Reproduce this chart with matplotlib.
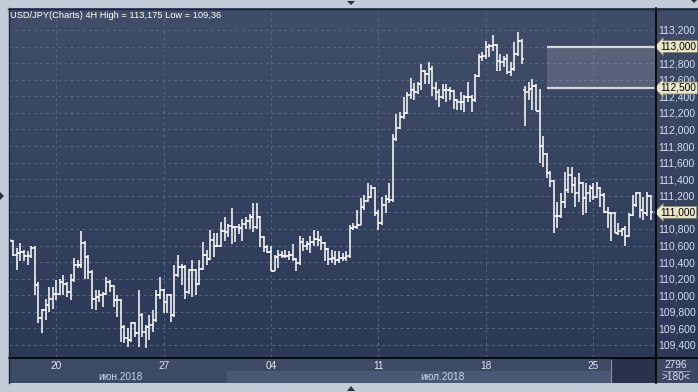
import numpy as np
import matplotlib
matplotlib.use('Agg')
import matplotlib.pyplot as plt
import matplotlib.transforms as mtransforms
from matplotlib.patches import Rectangle, Polygon
from matplotlib.colors import LinearSegmentedColormap

# USD/JPY 4H bars, 18 Jun - 27 Jul 2018
opens = [110.67, 110.66, 110.49, 110.51, 110.52, 110.47, 110.47, 110.57, 110.12, 109.72,
         109.82, 109.88, 109.95, 110.02, 110.02, 110.16, 110.14, 110.04, 110.18, 110.37,
         110.37, 110.63, 110.46, 110.28, 109.96, 109.98, 110.00, 110.02, 110.16, 110.11,
         109.94, 109.94, 109.62, 109.48, 109.46, 109.66, 109.54, 109.76, 109.56, 109.62,
         109.64, 109.70, 110.00, 110.06, 109.92, 110.00, 109.76, 110.25, 110.34, 110.34,
         110.04, 110.30, 110.30, 110.14, 110.32, 110.48, 110.44, 110.67, 110.60, 110.60,
         110.78, 110.76, 110.84, 110.82, 110.82, 110.81, 110.86, 110.89, 110.94, 110.82,
         110.94, 110.70, 110.58, 110.52, 110.29, 110.46, 110.48, 110.47, 110.47, 110.48,
         110.44, 110.39, 110.64, 110.60, 110.62, 110.64, 110.68, 110.67, 110.63, 110.56,
         110.44, 110.45, 110.43, 110.45, 110.45, 110.47, 110.81, 110.82, 110.85, 111.07,
         111.14, 111.18, 111.29, 110.99, 110.87, 111.09, 111.16, 111.15, 111.88, 112.02,
         112.15, 112.20, 112.42, 112.47, 112.45, 112.55, 112.71, 112.67, 112.73, 112.50,
         112.45, 112.39, 112.47, 112.47, 112.46, 112.35, 112.33, 112.33, 112.39, 112.39,
         112.35, 112.65, 112.87, 112.89, 112.99, 113.01, 113.02, 112.83, 112.81, 112.85,
         112.69, 112.73, 112.91, 113.07, 112.47, 112.45, 112.49, 112.53, 112.22, 111.80,
         111.70, 111.48, 111.38, 110.95, 110.95, 111.12, 111.27, 111.45, 111.33, 111.23,
         111.35, 111.17, 111.23, 111.29, 111.19, 111.29, 111.21, 111.01, 110.99, 110.99,
         110.75, 110.77, 110.80, 110.72, 110.97, 111.09, 111.23, 111.03, 110.99, 111.20]
highs = [110.68, 110.67, 110.57, 110.63, 110.55, 110.53, 110.59, 110.59, 110.16, 109.84,
         109.96, 110.10, 110.10, 110.18, 110.20, 110.24, 110.16, 110.26, 110.45, 110.43,
         110.77, 110.65, 110.48, 110.30, 110.06, 110.06, 110.04, 110.22, 110.18, 110.12,
         110.00, 109.96, 109.64, 109.60, 109.68, 109.68, 110.06, 109.78, 109.64, 109.76,
         109.82, 110.06, 110.22, 110.08, 110.02, 110.02, 110.36, 110.48, 110.38, 110.36,
         110.32, 110.43, 110.32, 110.42, 110.64, 110.54, 110.79, 110.75, 110.75, 110.88,
         110.94, 110.86, 111.05, 110.84, 110.86, 110.92, 110.94, 110.98, 111.11, 111.11,
         110.96, 110.72, 110.61, 110.59, 110.49, 110.55, 110.53, 110.55, 110.53, 110.62,
         110.45, 110.71, 110.69, 110.65, 110.72, 110.79, 110.77, 110.71, 110.64, 110.57,
         110.55, 110.53, 110.53, 110.51, 110.53, 110.85, 110.87, 111.03, 111.17, 111.21,
         111.35, 111.33, 111.31, 111.03, 111.19, 111.21, 111.35, 111.94, 112.19, 112.21,
         112.39, 112.45, 112.62, 112.56, 112.57, 112.79, 112.72, 112.81, 112.76, 112.57,
         112.49, 112.55, 112.55, 112.51, 112.47, 112.37, 112.45, 112.41, 112.57, 112.41,
         112.67, 112.91, 112.93, 113.07, 113.03, 113.14, 113.03, 112.91, 112.88, 112.91,
         112.81, 113.05, 113.175, 113.09, 112.53, 112.57, 112.61, 112.55, 112.49, 111.92,
         111.72, 111.50, 111.39, 111.13, 111.23, 111.49, 111.55, 111.55, 111.43, 111.47,
         111.37, 111.35, 111.33, 111.35, 111.37, 111.31, 111.23, 111.07, 111.01, 111.01,
         110.87, 110.81, 110.83, 110.99, 111.21, 111.24, 111.25, 111.19, 111.24, 111.21]
lows = [110.64, 110.47, 110.31, 110.41, 110.41, 110.37, 110.45, 110.00, 109.66, 109.54,
        109.70, 109.80, 109.84, 109.94, 110.00, 110.00, 109.98, 109.94, 110.16, 110.33,
        110.33, 110.20, 110.20, 109.84, 109.82, 109.92, 109.86, 110.00, 110.04, 109.86,
        109.74, 109.44, 109.42, 109.38, 109.44, 109.50, 109.38, 109.50, 109.36, 109.46,
        109.56, 109.68, 109.96, 109.78, 109.78, 109.68, 109.74, 110.22, 110.12, 109.96,
        110.02, 109.98, 110.00, 110.12, 110.30, 110.36, 110.42, 110.46, 110.58, 110.58,
        110.66, 110.70, 110.62, 110.64, 110.74, 110.66, 110.80, 110.80, 110.76, 110.80,
        110.58, 110.52, 110.51, 110.29, 110.29, 110.33, 110.45, 110.45, 110.43, 110.41,
        110.29, 110.37, 110.53, 110.55, 110.51, 110.59, 110.59, 110.55, 110.41, 110.37,
        110.39, 110.37, 110.39, 110.41, 110.41, 110.45, 110.79, 110.80, 110.85, 111.03,
        111.12, 111.17, 110.95, 110.79, 110.85, 110.99, 111.11, 111.13, 111.86, 112.00,
        112.13, 112.19, 112.37, 112.35, 112.43, 112.47, 112.55, 112.55, 112.40, 112.35,
        112.27, 112.37, 112.33, 112.35, 112.25, 112.23, 112.23, 112.21, 112.33, 112.21,
        112.33, 112.63, 112.83, 112.85, 112.87, 112.95, 112.71, 112.71, 112.75, 112.67,
        112.65, 112.71, 112.89, 112.79, 112.04, 112.35, 112.23, 112.22, 111.60, 111.55,
        111.42, 111.30, 110.75, 110.81, 110.93, 111.05, 111.23, 111.23, 111.07, 111.13,
        110.97, 110.99, 111.13, 111.15, 111.17, 111.07, 110.99, 110.81, 110.65, 110.75,
        110.73, 110.71, 110.59, 110.70, 110.95, 111.07, 110.93, 110.91, 110.95, 110.91]
closes = [110.66, 110.49, 110.51, 110.52, 110.47, 110.47, 110.57, 110.12, 109.72, 109.82,
          109.88, 109.95, 110.02, 110.02, 110.16, 110.14, 110.04, 110.18, 110.37, 110.37,
          110.63, 110.46, 110.28, 109.96, 109.98, 110.00, 110.02, 110.16, 110.11, 109.94,
          109.94, 109.62, 109.48, 109.46, 109.66, 109.54, 109.76, 109.56, 109.62, 109.64,
          109.70, 110.00, 110.06, 109.92, 110.00, 109.76, 110.25, 110.34, 110.34, 110.04,
          110.30, 110.30, 110.14, 110.32, 110.48, 110.44, 110.67, 110.60, 110.60, 110.78,
          110.76, 110.84, 110.82, 110.82, 110.81, 110.86, 110.89, 110.94, 110.82, 110.94,
          110.70, 110.58, 110.52, 110.29, 110.46, 110.48, 110.47, 110.47, 110.48, 110.44,
          110.39, 110.64, 110.60, 110.62, 110.64, 110.68, 110.67, 110.63, 110.56, 110.44,
          110.45, 110.43, 110.45, 110.45, 110.47, 110.81, 110.82, 110.85, 111.07, 111.14,
          111.18, 111.29, 110.99, 110.87, 111.09, 111.16, 111.15, 111.88, 112.02, 112.15,
          112.20, 112.42, 112.47, 112.45, 112.55, 112.71, 112.67, 112.73, 112.50, 112.45,
          112.39, 112.47, 112.47, 112.46, 112.35, 112.33, 112.33, 112.39, 112.39, 112.35,
          112.65, 112.87, 112.89, 112.99, 113.01, 113.02, 112.83, 112.81, 112.85, 112.69,
          112.73, 112.91, 113.07, 112.85, 112.45, 112.49, 112.53, 112.22, 111.80, 111.70,
          111.48, 111.38, 110.95, 110.95, 111.12, 111.27, 111.45, 111.33, 111.23, 111.35,
          111.17, 111.23, 111.29, 111.19, 111.29, 111.21, 111.01, 110.99, 110.99, 110.75,
          110.77, 110.80, 110.72, 110.97, 111.09, 111.23, 111.03, 110.99, 111.20, 111.00]

# x axis: bar index of each weekly label
day_ticks = [13, 43, 73, 103, 133, 163]
day_labels = ['20', '27', '04', '11', '18', '25']
month_labels = ['июн.2018', 'июл.2018']

# 113,000 and 111,000 sit under the price markers, so their tick text is left blank
y_ticks = [109.4, 109.6, 109.8, 110.0, 110.2, 110.4, 110.6, 110.8, 111.0, 111.2,
           111.4, 111.6, 111.8, 112.0, 112.2, 112.4, 112.6, 112.8, 113.0, 113.2]
y_tick_labels = ['109,400', '109,600', '109,800', '110,000', '110,200', '110,400',
                 '110,600', '110,800', '', '111,200', '111,400', '111,600',
                 '111,800', '112,000', '112,200', '112,400', '112,600', '112,800',
                 '', '113,200']

# price markers on the right axis and the shaded zone
zone_low, zone_high = 112.5, 113.0
zone_start = 150.2
markers = [(113.0, '113,000'), (112.5, '112,500'), (111.0, '111,000')]

title = 'USD/JPY(Charts) 4H High = 113,175 Low = 109,36'

plt.rcParams['font.family'] = ['Liberation Sans', 'DejaVu Sans']

W, H = 698, 392
fig = plt.figure(figsize=(W / 100, H / 100), dpi=100)
fig.patch.set_facecolor('#c3ccd9')


def frac(x0, y0, x1, y1):
    # pixel box (y from top) -> figure fraction [left, bottom, width, height]
    return [x0 / W, 1 - y1 / H, (x1 - x0) / W, (y1 - y0) / H]


def pt(x, y):
    return (x / W, 1 - y / H)


def rect(x0, y0, x1, y1, color):
    l, b, w, h = frac(x0, y0, x1, y1)
    fig.add_artist(Rectangle((l, b), w, h, transform=fig.transFigure,
                             facecolor=color, edgecolor='none', zorder=-1))


def line(x0, y0, x1, y1, color, lw=1.0):
    fig.add_artist(plt.Line2D([x0 / W, x1 / W], [1 - y0 / H, 1 - y1 / H],
                              transform=fig.transFigure, color=color, lw=lw, zorder=3))


# gradient background behind the plot and the price axis
bg = fig.add_axes(frac(9, 8, 698, 357))
grad = np.linspace(0, 1, 256).reshape(-1, 1)
cmap = LinearSegmentedColormap.from_list('bg', ['#2b3856', '#404d68'])
bg.imshow(grad, aspect='auto', cmap=cmap, origin='lower', extent=[0, 1, 0, 1])
bg.axis('off')
bg.set_zorder(0)

# bottom date panel
rect(9, 357, 611, 371, '#3d4a66')
rect(9, 371, 227, 383, '#3d4a66')
rect(227, 371, 611, 383, '#4a5875')
rect(611, 357, 655, 383, '#27324c')
rect(655, 357, 698, 383, '#3a4764')
line(610.5, 360, 610.5, 382, '#8490a6', 0.8)

ax = fig.add_axes(frac(9, 8, 655, 357))
ax.set_zorder(1)
ax.patch.set_alpha(0)

x = np.arange(len(closes))
ax.vlines(x, lows, highs, color='white', lw=1.1, zorder=3)
ax.hlines(opens, x - 0.6, x, color='white', lw=1.1, zorder=3)
ax.hlines(closes, x, x + 0.6, color='white', lw=1.1, zorder=3)

xmin, xmax = -0.2, 180.25
ax.set_xlim(xmin, xmax)
ax.set_ylim(109.255, 113.465)

# shaded zone between two levels
ax.add_patch(Rectangle((zone_start, zone_low), xmax - zone_start, zone_high - zone_low,
                       facecolor='white', alpha=0.14, edgecolor='none', zorder=2))
ax.hlines([zone_low, zone_high], zone_start, xmax, color='#d2d6de', lw=1.6, zorder=2)

ax.set_xticks(day_ticks)
ax.set_xticklabels(day_labels)
ax.yaxis.tick_right()
ax.set_yticks(y_ticks)
ax.set_yticklabels(y_tick_labels)
ax.tick_params(axis='x', length=0, pad=3, labelsize=7.3, labelcolor='#dde5f3')
ax.tick_params(axis='y', length=0, pad=2, labelsize=7.5, labelcolor='#d3def0')
ax.grid(True, color='#56647f', lw=0.8, linestyle=(0, (2.5, 3)))
ax.set_axisbelow(True)
for side in ['left', 'top', 'bottom', 'right']:
    ax.spines[side].set_visible(False)

trans = mtransforms.blended_transform_factory(ax.transAxes, ax.transData)
for price, label in markers:
    ax.annotate(label, xy=(1.0, price), xycoords=trans, xytext=(4.0, 0),
                textcoords='offset points', ha='left', va='center', fontsize=7.3,
                color='black', annotation_clip=False, zorder=6,
                bbox=dict(boxstyle='larrow,pad=0.1', fc='#ebe7c9', ec='#7c7b6e', lw=0.6))

# frame lines
line(9, 357.5, 698, 357.5, 'black', 1.2)
line(655.5, 8, 655.5, 383, 'black', 1.2)
line(8.5, 8, 8.5, 383, '#1c2436', 1.0)
line(8, 8.5, 698, 8.5, '#1c2436', 1.0)

fig.text(10 / W, 1 - 15 / H, title, fontsize=6.7, color='white', va='center', ha='left')
fig.text(120 / W, 1 - 377 / H, month_labels[0], fontsize=7.3, color='#c9d4ea', ha='center', va='center')
fig.text(442 / W, 1 - 377 / H, month_labels[1], fontsize=7.3, color='#c9d4ea', ha='center', va='center')
fig.text(676 / W, 1 - 364.5 / H, '2796', fontsize=7.3, color='#dde5f3', ha='center', va='center')
line(663, 371, 690, 371, '#8d97aa', 0.7)
fig.text(676 / W, 1 - 377.5 / H, '>180<', fontsize=7.3, color='#dde5f3', ha='center', va='center')

# little scroll arrows on the border
for tri in [[(347, 1), (355, 1), (351, 5)], [(347, 391), (355, 391), (351, 386)],
            [(0, 192), (0, 200), (4, 196)], [(691, 0), (697, 0), (694, 3)]]:
    fig.add_artist(Polygon([pt(a, b) for a, b in tri], closed=True, transform=fig.transFigure,
                           facecolor='#2a3243', edgecolor='none', zorder=3))

fig.savefig('out.png', dpi=100)
